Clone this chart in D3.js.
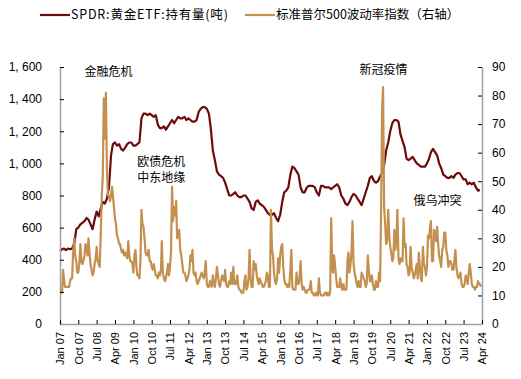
<!DOCTYPE html>
<html>
<head>
<meta charset="utf-8">
<script src="https://cdn.jsdelivr.net/npm/d3@7"></script>
<style>
  body { margin: 0; background: #fff; }
  svg text { font-family: "Liberation Sans", Arial, sans-serif; fill: #000; }
  svg .cjk { font-family: "Noto Sans CJK SC", sans-serif; }
</style>
</head>
<body>
<div id="chart"></div>
<script>
// SPDR gold ETF holdings, tonnes, monthly Jan 2007 - Mar 2024
let spdr = [
  455, 465, 470, 460, 470, 465, 470, 500, 590, 600, 620, 630,        // 2007
  640, 660, 650, 620, 590, 650, 700, 670, 720, 760, 750, 780,        // 2008
  850, 1050, 1120, 1130, 1110, 1120, 1090, 1080, 1100, 1120, 1130, 1130, // 2009
  1110, 1110, 1120, 1130, 1280, 1310, 1310, 1300, 1310, 1300, 1290, 1300, // 2010
  1240, 1220, 1220, 1230, 1210, 1230, 1250, 1270, 1250, 1270, 1290, 1280, // 2011
  1280, 1290, 1270, 1280, 1270, 1260, 1260, 1270, 1320, 1340, 1350, 1350, // 2012
  1340, 1310, 1220, 1080, 1020, 950, 930, 920, 910, 880, 840, 800,   // 2013
  800, 810, 820, 800, 790, 790, 800, 800, 780, 760, 720, 710,        // 2014
  760, 770, 750, 740, 730, 710, 690, 680, 680, 690, 660, 640,        // 2015
  680, 760, 820, 830, 850, 930, 980, 970, 950, 930, 850, 820,        // 2016
  820, 850, 860, 860, 860, 850, 820, 800, 860, 860, 850, 850,        // 2017
  850, 840, 850, 860, 870, 850, 800, 780, 750, 740, 760, 790,        // 2018
  810, 800, 780, 760, 740, 780, 820, 860, 910, 920, 890, 880,        // 2019
  890, 920, 940, 990, 1080, 1130, 1200, 1250, 1270, 1270, 1260, 1180, // 2020
  1140, 1100, 1030, 1020, 1030, 1040, 1020, 1000, 990, 980, 980, 980, // 2021
  1000, 1030, 1070, 1090, 1070, 1050, 1000, 970, 930, 920, 910, 910, // 2022
  920, 910, 930, 940, 940, 920, 900, 900, 870, 880, 870, 880,        // 2023
  850, 830, 835                                                      // 2024
];

// S&P 500 volatility index (VIX), two readings per month, Jan 2007 - Mar 2024
let vix = [
  11,11, 11,19, 16,13, 13,13, 13,13, 15,16, 16,25, 30,24, 22,18, 18,21, 28,22, 21,22, // 2007
  24,28, 26,24, 30,25, 21,19, 17,18, 21,23, 27,22, 21,20, 32,45, 52,79, 65,81, 55,45, // 2008
  45,43, 45,48, 45,41, 37,35, 31,30, 28,28, 26,25, 26,24, 25,24, 23,29, 24,22, 22,21, // 2009
  18,24, 26,20, 17,17, 16,22, 40,35, 34,30, 25,24, 24,26, 22,22, 20,19, 21,19, 17,17, // 2010
  16,18, 17,19, 29,18, 16,15, 16,18, 21,17, 20,25, 48,36, 41,38, 43,30, 32,33, 26,24, // 2011
  21,18, 18,17, 15,16, 17,19, 24,22, 26,18, 17,18, 15,14, 15,16, 17,18, 17,16, 18,22, // 2012
  14,13, 13,15, 14,13, 17,14, 13,16, 20,17, 14,13, 15,17, 16,15, 19,14, 13,13, 15,14, // 2013
  18,14, 20,14, 15,14, 17,13, 12,12, 11,11, 11,15, 17,12, 13,16, 26,16, 13,13, 22,19, // 2014
  21,17, 15,14, 16,15, 14,13, 13,14, 15,18, 17,13, 13,40, 26,24, 18,15, 14,16, 23,18, // 2015
  24,27, 28,20, 16,14, 14,13, 14,13, 19,26, 13,12, 12,12, 18,14, 14,16, 22,14, 12,13, // 2016
  12,11, 11,12, 12,12, 15,11, 11,10, 10,11, 10,10, 16,11, 10,10, 10,10, 11,11, 10,11, // 2017
  10,11, 37,20, 18,24, 20,16, 13,13, 13,16, 13,12, 14,12, 12,12, 22,25, 18,21, 25,36, // 2018
  21,18, 16,14, 13,15, 13,13, 18,17, 16,15, 13,14, 24,19, 15,15, 17,14, 12,12, 15,13, // 2019
  13,18, 15,40, 75,83, 41,35, 28,29, 40,31, 27,25, 22,23, 33,26, 29,40, 23,21, 23,22, // 2020
  22,37, 27,28, 21,20, 17,18, 27,20, 18,16, 17,19, 21,16, 25,20, 16,15, 27,21, 20,17, // 2021
  20,31, 30,34, 36,22, 22,33, 32,29, 34,28, 24,22, 20,26, 27,32, 32,26, 24,20, 22,22, // 2022
  21,19, 19,23, 26,20, 17,16, 17,18, 14,13, 13,14, 17,16, 14,18, 21,18, 14,13, 13,12, // 2023
  13,13, 15,14, 14,13                                                                 // 2024
];

let leftTicks = [0, 200, 400, 600, 800, 1000, 1200, 1400, 1600];
let rightTicks = [0, 10, 20, 30, 40, 50, 60, 70, 80, 90];
let seriesNames = ['SPDR:黄金ETF:持有量(吨)', '标准普尔500波动率指数（右轴）'];
let notes = [
  {text: '金融危机', date: new Date(2008, 0, 1), value: 1570},
  {text: '欧债危机', date: new Date(2010, 2, 1), value: 1010},
  {text: '中东地缘', date: new Date(2010, 2, 1), value: 910},
  {text: '新冠疫情', date: new Date(2019, 3, 1), value: 1585},
  {text: '俄乌冲突', date: new Date(2021, 5, 15), value: 765}
];

let start = new Date(2007, 0, 1);
let end = new Date(2024, 3, 1);
let xTicks = d3.range(24).map(i => d3.timeMonth.offset(start, 9 * i));

let margin = {top: 67, right: 39, bottom: 55, left: 60};
let width = 521 - margin.left - margin.right;
let height = 379 - margin.top - margin.bottom;

let brown = '#6e0a0a';
let tan = '#c49050';

let x = d3.scaleTime().domain([start, end]).range([0, width]);
let yL = d3.scaleLinear().domain([0, 1600]).range([height, 0]);
let yR = d3.scaleLinear().domain([0, 90]).range([height, 0]);

let spdrData = spdr.map((v, i) => ({date: d3.timeMonth.offset(start, i), value: v}));
let vixData = vix.map((v, i) => ({
  date: d3.timeDay.offset(d3.timeMonth.offset(start, Math.floor(i / 2)), (i % 2) * 15),
  value: v
}));

let root = d3.select('#chart')
  .append('svg')
  .attr('width', 521)
  .attr('height', 379);

let svg = root.append('g')
  .attr('transform', `translate(${margin.left},${margin.top})`);

// lines
svg.append('path')
  .datum(spdrData)
  .attr('fill', 'none')
  .attr('stroke', brown)
  .attr('stroke-width', 2.2)
  .attr('stroke-linejoin', 'round')
  .attr('d', d3.line().x(d => x(d.date)).y(d => yL(d.value)));

svg.append('path')
  .datum(vixData)
  .attr('fill', 'none')
  .attr('stroke', tan)
  .attr('stroke-width', 2.2)
  .attr('stroke-linejoin', 'round')
  .attr('d', d3.line().x(d => x(d.date)).y(d => yR(d.value)));

// axes
let fmtLeft = d => d3.format(',')(d).replace(',', ', ');

let gl = svg.append('g')
  .call(d3.axisLeft(yL).tickValues(leftTicks).tickFormat(fmtLeft).tickSizeInner(-4).tickSizeOuter(0).tickPadding(18));
let gr = svg.append('g')
  .attr('transform', `translate(${width},0)`)
  .call(d3.axisRight(yR).tickValues(rightTicks).tickSizeInner(-4).tickSizeOuter(0).tickPadding(10));
let gb = svg.append('g')
  .attr('transform', `translate(0,${height})`)
  .call(d3.axisBottom(x).tickValues(xTicks).tickFormat(d3.timeFormat('%b %y')).tickSizeInner(-4).tickSizeOuter(0).tickPadding(6));

[gl, gr, gb].forEach(g => {
  g.select('.domain').attr('stroke', '#a0a0a0').attr('stroke-width', 1.5);
  g.selectAll('.tick line').attr('stroke', '#000');
  g.selectAll('text').attr('font-size', 12).attr('fill', '#000');
});

gb.selectAll('text')
  .attr('transform', 'rotate(-90)')
  .attr('text-anchor', 'end')
  .attr('dy', '0.35em')
  .attr('x', -8)
  .attr('y', 0)
  .attr('font-size', 11);

// annotations
svg.append('g')
  .selectAll('text')
  .data(notes)
  .enter()
  .append('text')
  .attr('class', 'cjk')
  .attr('x', d => x(d.date))
  .attr('y', d => yL(d.value))
  .attr('dy', '0.35em')
  .attr('font-size', 12)
  .text(d => d.text);

// legend
let legend = root.append('g')
  .attr('transform', 'translate(40,15)');
let legendX = [0, 205];
let legendColor = [brown, tan];
let legendSpacing = [0.8, 0];
seriesNames.forEach((name, i) => {
  let lg = legend.append('g').attr('transform', `translate(${legendX[i]},0)`);
  lg.append('line')
    .attr('x1', 0).attr('x2', 30)
    .attr('stroke', legendColor[i])
    .attr('stroke-width', 2.2);
  lg.append('text')
    .attr('class', 'cjk')
    .attr('x', 31)
    .attr('dy', '0.35em')
    .attr('font-size', 12.5)
    .attr('letter-spacing', legendSpacing[i])
    .text(name);
});
</script>
</body>
</html>
